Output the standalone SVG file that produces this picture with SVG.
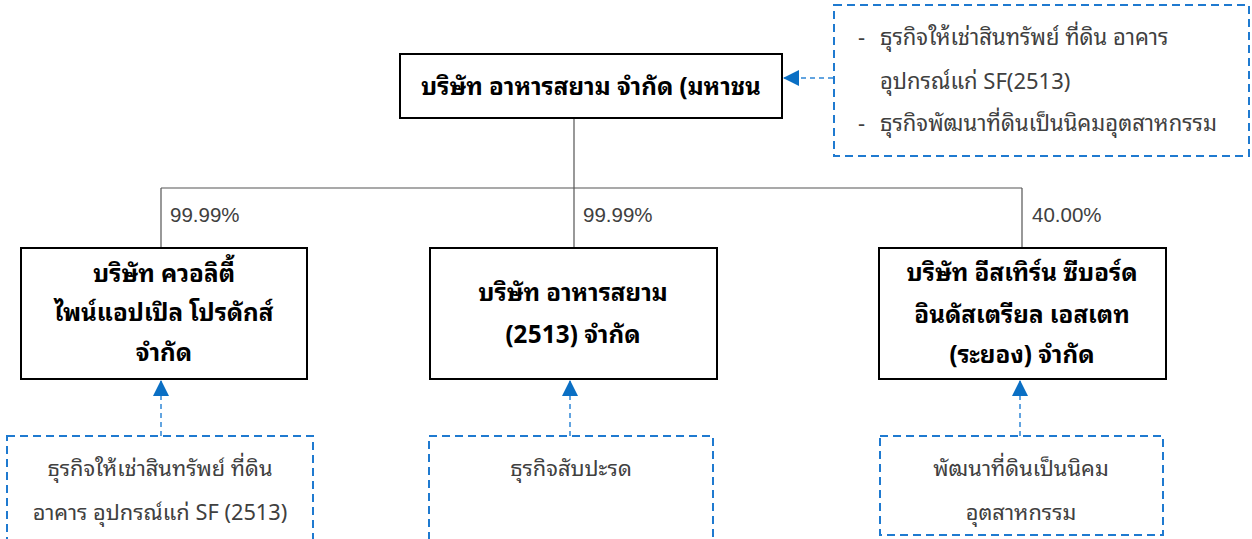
<svg xmlns="http://www.w3.org/2000/svg" width="1252" height="539" viewBox="0 0 1252 539">
<style>
.box{fill:#fff;stroke:#000;stroke-width:2}
.note{fill:#fff;stroke:#1f7ad0;stroke-width:2;stroke-dasharray:8 5}
.line{fill:none;stroke:#555;stroke-width:1.2}
.dline{fill:none;stroke:#2f86d6;stroke-width:1.5;stroke-dasharray:5 4}
.t{font-family:"Noto Sans Thai Looped","Noto Sans Thai","Noto Sans","Liberation Sans",sans-serif;font-size:24.2px;font-weight:bold;fill:#000;text-anchor:middle}
.n{font-family:"Noto Sans Thai Looped","Noto Sans Thai","Noto Sans","Liberation Sans",sans-serif;font-size:21.8px;fill:#404040;text-anchor:middle}
.m{font-family:"Noto Sans Thai Looped","Noto Sans Thai","Noto Sans","Liberation Sans",sans-serif;font-size:22px;fill:#404040}
.p{font-family:"Liberation Sans",sans-serif;font-size:20.5px;fill:#404040}
</style>
<defs>
<marker id="ah2" viewBox="0 0 16 16" refX="15" refY="8" markerWidth="16" markerHeight="16" orient="auto" markerUnits="userSpaceOnUse">
<path d="M0,0 L16,8 L0,16 z" fill="#0a6fc4"/>
</marker>
</defs>
<g id="connectors">
<path class="line" d="M574,118 V188 M161,188 H1022 M161,188 V248 M574,188 V248 M1022,188 V248"/>
<path class="dline" d="M833,78 H784" marker-end="url(#ah2)"/>
<path class="dline" d="M161,436 V381" marker-end="url(#ah2)"/>
<path class="dline" d="M570,436 V381" marker-end="url(#ah2)"/>
<path class="dline" d="M1020,436 V381" marker-end="url(#ah2)"/>
<text class="p" x="170" y="222">99.99%</text>
<text class="p" x="583" y="222">99.99%</text>
<text class="p" x="1032" y="222">40.00%</text>
</g>
<g id="parent">
<rect class="box" x="400" y="54" width="382" height="64"/>
<text class="t" x="591" y="95">บริษัท อาหารสยาม จำกัด (มหาชน</text>
</g>
<g id="parent-note">
<rect class="note" x="834" y="5" width="415" height="151"/>
<text class="m" x="858" y="45">-</text>
<text class="m" x="880" y="45">ธุรกิจให้เช่าสินทรัพย์ ที่ดิน อาคาร</text>
<text class="m" x="880" y="89">อุปกรณ์แก่ SF(2513)</text>
<text class="m" x="858" y="131">-</text>
<text class="m" x="880" y="131">ธุรกิจพัฒนาที่ดินเป็นนิคมอุตสาหกรรม</text>
</g>
<g id="sub1">
<rect class="box" x="21" y="248" width="286" height="131"/>
<text class="t" x="164" y="282">บริษัท ควอลิตี้</text>
<text class="t" x="164" y="321">ไพน์แอปเปิล โปรดักส์</text>
<text class="t" x="164" y="361">จำกัด</text>
</g>
<g id="sub2">
<rect class="box" x="430" y="248" width="287" height="131"/>
<text class="t" x="573" y="301">บริษัท อาหารสยาม</text>
<text class="t" x="573" y="343">(2513) จำกัด</text>
</g>
<g id="sub3">
<rect class="box" x="879" y="248" width="287" height="131"/>
<text class="t" x="1022" y="281">บริษัท อีสเทิร์น ซีบอร์ด</text>
<text class="t" x="1022" y="323">อินดัสเตรียล เอสเตท</text>
<text class="t" x="1022" y="363">(ระยอง) จำกัด</text>
</g>
<g id="note1">
<rect class="note" x="7" y="436" width="306" height="106"/>
<text class="n" x="160" y="476">ธุรกิจให้เช่าสินทรัพย์ ที่ดิน</text>
<text class="n" x="160" y="520">อาคาร อุปกรณ์แก่ SF (2513)</text>
</g>
<g id="note2">
<rect class="note" x="429" y="436" width="284" height="106"/>
<text class="n" x="571" y="476">ธุรกิจสับปะรด</text>
</g>
<g id="note3">
<rect class="note" x="880" y="436" width="283" height="99"/>
<text class="n" x="1021" y="476">พัฒนาที่ดินเป็นนิคม</text>
<text class="n" x="1021" y="520">อุตสาหกรรม</text>
</g>
</svg>
